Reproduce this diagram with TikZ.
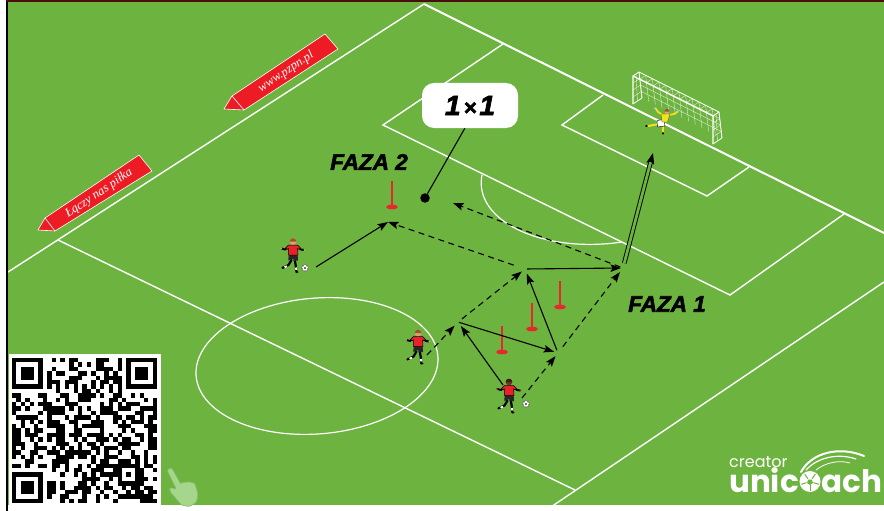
\documentclass[tikz,border=0pt]{standalone}
\usepackage{fontspec}
\usepackage{graphicx}
\setmainfont{Liberation Sans}
\newfontface\fazafont{Liberation Sans Bold Italic}[FakeBold=2.5]
\newfontfamily\ribbonfont{Liberation Serif}
\newfontfamily\brandfont{Poppins}
\usetikzlibrary{arrows.meta,calc}

\definecolor{pitch}{HTML}{6DB33F}
\definecolor{conered}{HTML}{E8262B}
\definecolor{ribbonred}{HTML}{ED1C24}
\definecolor{skin}{HTML}{E2A06E}
\definecolor{hairbrown}{HTML}{9A5530}
\definecolor{darkskin}{HTML}{6B3A22}
\definecolor{darkhair}{HTML}{3A1E12}
\definecolor{kitred}{HTML}{E8222A}
\definecolor{keeperyellow}{HTML}{F2E21C}
\definecolor{handgreen}{HTML}{A6D58C}
\definecolor{handedge}{HTML}{86BD68}
\definecolor{topline}{HTML}{4A0D0D}

\tikzset{
  pics/player/.style 2 args={code={
    % back leg
    \draw[black, line width=2.2pt, line cap=round, line join=round] (-1.5,8) -- (-4.5,13) -- (-9.5,15.5);
    \draw[white, line width=1.8pt] (-6,14.2) -- (-8.5,15.2);
    \fill[black] (-10.3,15.8) circle (1.4);
    % front leg
    \draw[black, line width=2.2pt, line cap=round, line join=round] (1.8,8) -- (2.8,14) -- (3.2,19);
    \draw[white, line width=1.8pt] (3,15.5) -- (3.2,18);
    \fill[black] (3.8,20) ellipse (1.8 and 1.2);
    % shorts
    \fill[black!85] (-4.4,2.5) -- (4.6,2.5) -- (5,8.5) -- (0.6,9) -- (0.2,6.5) -- (-4.6,8.5) -- cycle;
    % arms
    \draw[black, line width=1.9pt, line cap=round, line join=round] (-3.8,-5.5) -- (-8,-2.5) -- (-11.5,-3.5);
    \draw[black, line width=1.9pt, line cap=round, line join=round] (3.8,-5.5) -- (8,-2.5) -- (11,-2);
    \fill[#1] (-11.8,-3.6) circle (1); \fill[#1] (11.3,-2) circle (1);
    % shirt with sleeves
    \filldraw[fill=kitred, draw=black, line width=0.5pt, line join=round]
      (-4.5,-7) -- (-7.5,-4) -- (-5.8,-2.6) -- (-4.6,-3.6) -- (-4.5,3) -- (5,3)
      -- (4.6,-3.6) -- (5.8,-2.6) -- (7.5,-4) -- (4.5,-7) -- cycle;
    % head
    \fill[#1] (0,-10.5) circle (3.3);
    \fill[#2] (-3.3,-10.5) arc[start angle=180,end angle=360,radius=3.3] -- cycle;
  }},
  pics/keeper/.style={code={
    \draw[keeperyellow, line width=2pt, line cap=round] (-5,4) -- (-16,6);
    \fill[black] (-17.5,6) ellipse (1.6 and 1);
    \draw[keeperyellow, line width=2pt, line cap=round] (-1,5) -- (-1,12);
    \fill[black] (-1,13.3) ellipse (1 and 1.5);
    \filldraw[fill=white, draw=black, line width=0.4pt] (-7,0.5) -- (0,-0.5) -- (1,6) -- (-6.5,7) -- cycle;
    \draw[keeperyellow, line width=1.8pt, line cap=round, line join=round] (-1,-5) -- (-6,-8) -- (-8,-11);
    \draw[keeperyellow, line width=1.8pt, line cap=round, line join=round] (5,-5) -- (10,-6) -- (13,-8);
    \fill[gray!45] (-8.5,-11.5) circle (1.4);
    \fill[gray!45] (13.5,-8.3) circle (1.4);
    \filldraw[fill=keeperyellow, draw=black!70, line width=0.3pt] (-3,-6) -- (6,-6) -- (3.5,2) -- (-2,2) -- cycle;
    \fill[skin] (3,-8.5) circle (2.6);
    \fill[hairbrown] (0.4,-8.5) arc[start angle=180,end angle=360,radius=2.6] -- cycle;
  }},
  pics/ball/.style={code={
    \filldraw[fill=white, draw=black!70, line width=0.35pt] (0,0) circle (3.4);
    \fill[black!75] (0,0) circle (1.1);
    \foreach \a in {18,90,162,234,306} \fill[black!60] (\a:2.7) circle (0.6);
  }},
  pics/cone/.style={code={
    \draw[conered, line width=1.8pt] (0,-1) -- (0,-26);
    \fill[conered] (0,0) ellipse (6 and 2.3);
  }}
}

\begin{document}
\begin{tikzpicture}[x=1pt,y=-1pt,
  pitchline/.style={white, line width=1.4pt, line join=miter},
  passarrow/.style={black, line width=1.1pt, -{Stealth[length=10.5pt,width=7.5pt,inset=2pt]}},
  runarrow/.style={passarrow, dash pattern=on 6pt off 4.5pt},
  shotarrow/.style={black, line width=0.9pt, double=pitch, double distance=2.8pt, -{Stealth[length=11pt,width=8pt,inset=2pt]}},
  netline/.style={white, line width=0.35pt, opacity=0.85},
  goalframe/.style={white, line width=1.3pt, line join=round},
  fazalabel/.style={font=\fazafont\fontsize{22.5}{22.5}\selectfont, inner sep=0pt, text=black},
  ribbon/.style={fill=ribbonred, draw=white, line width=0.6pt, line join=round},
  ribbontext/.style={font=\ribbonfont\itshape\fontsize{12.5}{12.5}\selectfont, text=white, rotate=33.7, inner sep=0pt},
  brand/.style={font=\brandfont, text=white, inner sep=0pt}
]
\useasboundingbox (0,0) rectangle (884,511);

% canvas and frame
\fill[white] (0,0) rectangle (884,511);
\fill[pitch] (8,2) rectangle (884,505);
\fill[black] (6,0) rectangle (8,511);
\fill[topline] (6,0) rectangle (884,2.5);

\begin{scope}
\clip (8,2.5) rectangle (884,505);
% touchlines, halfway line, goal line
\draw[pitchline] (8,272) -- (424,4);
\draw[pitchline, line width=2pt] (424,4) -- (884,233);
\draw[pitchline] (58,240) -- (575,490);
\draw[pitchline] (545,511) -- (884,282);
% penalty area and goal area
\draw[pitchline] (503,44) -- (383,125) -- (730,295) -- (844,214);
\draw[pitchline] (603,95) -- (562,125) -- (707,196) -- (749,167);
% centre circle and penalty arc
\draw[white, line width=1.2pt] plot[domain=0:360, samples=100, smooth]
  ({317+87.5*cos(\x)+83.6*sin(\x)},{366+42*cos(\x)-54*sin(\x)});
\draw[white, line width=1.2pt] plot[domain=216.9:323.1, samples=40, smooth]
  ({602.2+87.5*cos(\x)+83.6*sin(\x)},{176+42*cos(\x)-54*sin(\x)});
\end{scope}

% goal
\coordinate (gfl) at (633,104);
\coordinate (gflt) at (633,76);
\coordinate (gfr) at (713,144);
\coordinate (gfrt) at (713,116);
\coordinate (gbl) at (642,98);
\coordinate (gblt) at (639,72);
\coordinate (gbr) at (722,138);
\coordinate (gbrt) at (719,112);
\foreach \t in {0,0.0833,...,1.01}{
  \draw[netline] ($(gbl)!\t!(gbr)$) -- ($(gblt)!\t!(gbrt)$);
  \draw[netline] ($(gflt)!\t!(gfrt)$) -- ($(gblt)!\t!(gbrt)$);
}
\foreach \s in {0.25,0.5,0.75}{
  \draw[netline] ($(gbl)!\s!(gblt)$) -- ($(gbr)!\s!(gbrt)$);
  \draw[netline] ($(gfl)!\s!(gflt)$) -- ($(gbl)!\s!(gblt)$);
  \draw[netline] ($(gfr)!\s!(gfrt)$) -- ($(gbr)!\s!(gbrt)$);
}
\draw[netline] ($(gfl)!0.5!(gbl)$) -- ($(gflt)!0.5!(gblt)$);
\draw[netline] ($(gfr)!0.5!(gbr)$) -- ($(gfrt)!0.5!(gbrt)$);
\draw[goalframe, line width=0.8pt] (gbl) -- (gblt) -- (gbrt) -- (gbr);
\draw[goalframe, line width=0.8pt] (gflt) -- (gblt) (gfrt) -- (gbrt) (gfl) -- (gbl) (gfr) -- (gbr);
\draw[goalframe] (gfl) -- (gflt) -- (gfrt) -- (gfr);

% goalkeeper
\pic at (664,120) {keeper};

% cones
\pic at (392,207) {cone};
\pic at (560,307) {cone};
\pic at (532,329) {cone};
\pic at (502,352) {cone};

% passing and running points
\coordinate (kickA) at (316,267);
\coordinate (meetA) at (388,222);
\coordinate (v1) at (525,269);
\coordinate (v2) at (623,268);
\coordinate (v3) at (458,322);
\coordinate (v4) at (558,353);
\coordinate (runB) at (427,355);
\coordinate (kickC) at (503,385);
\coordinate (ballC) at (522,398);
\coordinate (passT) at (453,203);
\coordinate (shotT) at (653,153);

% phase 1
\draw[passarrow, shorten >=5pt] (kickC) -- (v3);
\draw[runarrow, shorten >=5pt] (runB) -- (v3);
\draw[passarrow, shorten <=1pt, shorten >=4pt] (v3) -- (v4);
\draw[runarrow, shorten >=4pt] (ballC) -- (v4);
\draw[runarrow, shorten <=5pt, shorten >=4pt] (v3) -- (v1);
\draw[passarrow, shorten <=3pt, shorten >=5pt] (v4) -- (v1);
\draw[passarrow, shorten <=2pt, shorten >=2pt] (v1) -- (v2);
\draw[runarrow, shorten <=8pt, shorten >=5pt] (v4) -- (v2);
\draw[shotarrow, shorten <=5pt] (v2) -- (shotT);

% phase 2
\draw[passarrow] (kickA) -- (meetA);
\draw[runarrow, shorten <=12pt] (v1) -- (meetA);
\draw[runarrow, shorten <=3pt] (v2) -- (passT);

% players and balls
\pic at (293,252) {player={skin}{hairbrown}};
\pic at (305,268) {ball};
\pic at (418,343.5) {player={skin}{hairbrown}};
\pic at (509,392.5) {player={darkskin}{darkhair}};
\pic at (526,404) {ball};

% labels
\node[fazalabel] (faza2) at (369,162) {FAZA 2};
\node[fazalabel] (faza1) at (667,304) {FAZA 1};

% 1x1 callout
\node[circle, fill=black, inner sep=0pt, minimum size=9.5pt] (dot) at (425,198) {};
\coordinate (tail) at (465,128);
\draw[black, line width=1.1pt] (dot) -- (tail);
\node[fill=white, rounded corners=12pt, minimum width=96pt, minimum height=45pt, inner sep=0pt,
      font=\fazafont\fontsize{28}{28}\selectfont] (bubble) at (470,105.5)
      {1\kern3pt{\fontsize{22}{22}\selectfont×}\kern3pt1};

% ribbons along the touchline
\draw[ribbon] (224,109) -- (232,96) -- (325,34) -- (338,49) -- (244,110) -- cycle;
\draw[white, line width=0.6pt] (232,96) -- (244,110);
\node[ribbontext] (www) at (286,72) {www.pzpn.pl};
\draw[ribbon] (38,230) -- (45,218) -- (139,155) -- (152,171) -- (55,231) -- cycle;
\draw[white, line width=0.6pt] (45,218) -- (55,231);
\node[ribbontext] (slogan) at (99,193.5) {Łączy nas piłka};

% QR code
\fill[white] (9,354) rectangle (161,506);
\begin{scope}[black]
\pgfmathsetseed{4242}
\foreach \qi in {0,...,32}{
  \foreach \qj in {0,...,32}{
    \pgfmathtruncatemacro{\qskip}{((\qi<8)&&(\qj<8))||((\qi>24)&&(\qj<8))||((\qi<8)&&(\qj>24))||((\qi>23)&&(\qi<29)&&(\qj>23)&&(\qj<29))||(\qi==6)||(\qj==6)}
    \ifnum\qskip=0
      \pgfmathtruncatemacro{\qbit}{rnd<0.5}
      \ifnum\qbit=1 \fill ({12+4.4*\qi},{358+4.4*\qj}) rectangle +(4.45,4.45); \fi
    \fi
  }
}
\foreach \k in {8,10,...,24}{
  \fill ({12+4.4*\k},{358+4.4*6}) rectangle +(4.45,4.45);
  \fill ({12+4.4*6},{358+4.4*\k}) rectangle +(4.45,4.45);
}
\foreach \fx/\fy in {0/0,26/0,0/26}{
  \fill ({12+4.4*\fx},{358+4.4*\fy}) rectangle +(30.8,30.8);
  \fill[white] ({12+4.4*(\fx+1)},{358+4.4*(\fy+1)}) rectangle +(22,22);
  \fill ({12+4.4*(\fx+2)},{358+4.4*(\fy+2)}) rectangle +(13.2,13.2);
}
\fill ({12+4.4*24},{358+4.4*24}) rectangle +(22,22);
\fill[white] ({12+4.4*25},{358+4.4*25}) rectangle +(13.2,13.2);
\fill ({12+4.4*26},{358+4.4*26}) rectangle +(4.4,4.4);
\end{scope}

% pointing hand
\filldraw[fill=handgreen, draw=handedge, line width=0.6pt, rounded corners=1.5pt]
  (167,470) -- (171.5,467.5) -- (181,484.5) -- (183,481.5) -- (186.5,483) -- (188.5,481)
  -- (192,483.5) -- (194.5,482.5) -- (198,494) -- (196.5,502) -- (190,506.5) -- (182,505.5)
  -- (176,498.5) -- (170,491.5) -- (169.5,487.5) -- (174,488.5) -- (176.5,489.5) -- cycle;

% brand mark
\node[brand, anchor=base west, font=\brandfont\fontsize{16}{16}\selectfont] (creator) at (729,467.5) {creator};
\node[brand, anchor=base east, font=\brandfont\bfseries\fontsize{31}{31}\selectfont] (unic) at (799,492.5) {unic};
\node[brand, anchor=base west, font=\brandfont\bfseries\fontsize{31}{31}\selectfont] (ach) at (821,492.5) {ach};
\draw[white, line width=2pt, line cap=round] (801,472) .. controls (812,452) and (840,446) .. (864,456);
\draw[white, line width=1.2pt, line cap=round] (806,470) .. controls (818,457) and (838,453) .. (856,459);
\draw[white, line width=0.8pt, line cap=round] (816,470) .. controls (826,462) and (840,460) .. (850,463);
\fill[white] (810,481.5) circle (10.5);
\fill[pitch] (810,481.5) ++(90:3.6) -- ++(-36:3.6) -- ++(-108:3.6) -- ++(-180:3.6) -- ++(108:3.6) -- cycle;
\foreach \a in {18,90,162,234,306}
  \draw[pitch, line width=1pt] (810,481.5) ++(\a:3.6) -- ++(\a:5.5);
\end{tikzpicture}
\end{document}
